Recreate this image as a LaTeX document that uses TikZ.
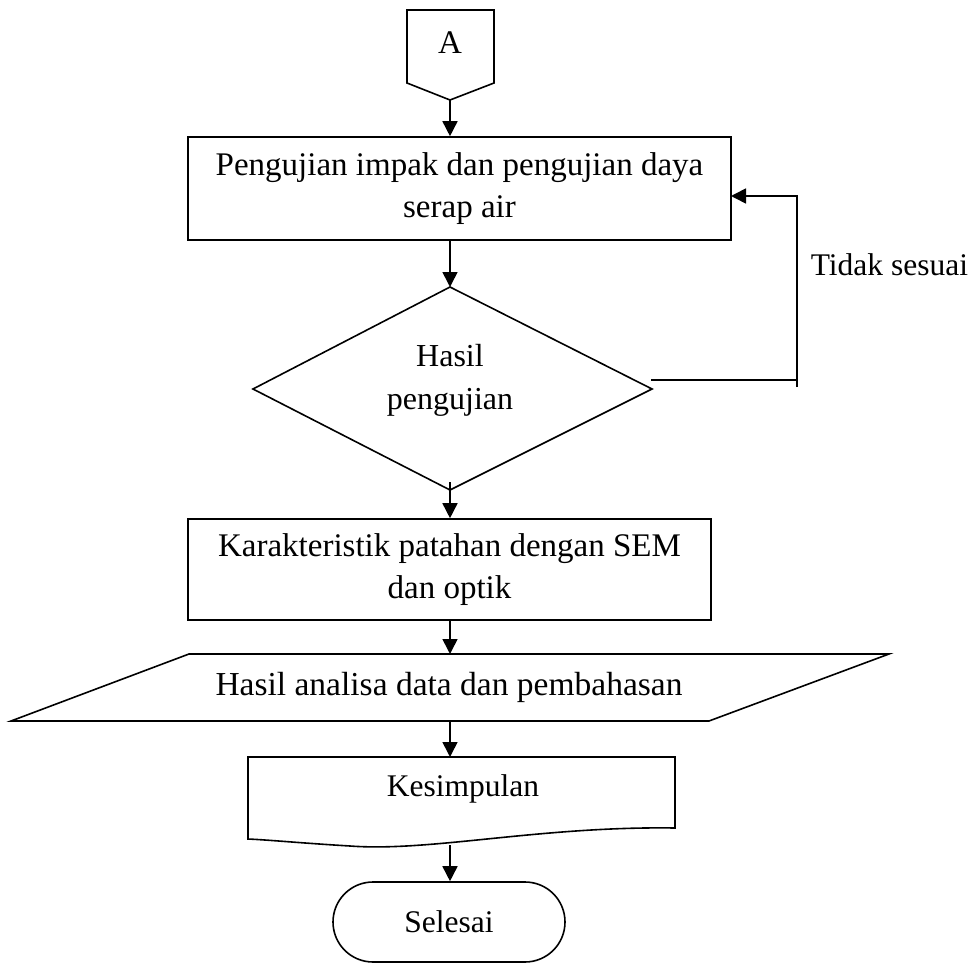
\documentclass[tikz,border=0pt]{standalone}
\usepackage{fontspec}
\setmainfont{Liberation Serif}
\usetikzlibrary{arrows.meta}
\begin{document}
\begin{tikzpicture}[x=1pt,y=-1pt,line width=1.6pt,
  every node/.style={font=\fontsize{32}{43}\selectfont,inner sep=0pt},
  big/.style={font=\fontsize{33}{42.5}\selectfont},
  small/.style={font=\fontsize{31.5}{43}\selectfont},
  flowbox/.style={draw,rectangle,align=center,big},
  txt/.style={align=center},
  conn/.style={-{Triangle[length=15pt,width=15pt]}}]
\useasboundingbox (0,0) rectangle (978,963);
% off-page connector A
\draw (407,10) -- (494,10) -- (494,83) -- (450,100) -- (407,83) -- cycle;
\coordinate (abot) at (450,100);
\node[big] (la) at (450,43) {A};
% box 1
\node[flowbox,minimum width=543pt,minimum height=103pt] (b1) at (459.5,188.5)
  {Pengujian impak dan pengujian daya\\serap air};
% decision
\draw (450,287) -- (652,389) -- (450,490) -- (253,389) -- cycle;
\coordinate (dtop) at (450,287);
\coordinate (dbot) at (450,482);
\node[txt] (dtext) at (450,380) {Hasil\\pengujian};
% loop back
\coordinate (lstart) at (651,380);
\coordinate (lcorner) at (797,380);
\coordinate (lext) at (797,387);
\coordinate (ltop) at (797,196);
\coordinate (b1in) at (731,196);
\draw (lstart) -- (lcorner);
\draw[conn] (lext) -- (ltop) -- (b1in);
\node[anchor=west,small] (tidak) at (810,265) {Tidak sesuai};
% box 2
\node[flowbox,minimum width=523pt,minimum height=101pt] (b2) at (449.5,569.5)
  {Karakteristik patahan dengan SEM\\dan optik};
% parallelogram
\draw (189,654) -- (889,654) -- (709,721) -- (11,721) -- cycle;
\coordinate (ptop) at (450,654);
\coordinate (pbot) at (450,721);
\node[font=\fontsize{33.5}{43}\selectfont] (ptext) at (449,687) {Hasil analisa data dan pembahasan};
% document
\draw (248,757) -- (675,757) -- (675,828)
  .. controls (540,826) and (430,852) .. (350,846)
  .. controls (300,843) and (270,840) .. (248,839) -- cycle;
\coordinate (doctop) at (450,757);
\coordinate (docbot) at (450,845);
\node[small] (doctext) at (463,789) {Kesimpulan};
% terminator
\node[draw,small,rounded corners=40pt,minimum width=232pt,minimum height=80pt] (term) at (449,922) {Selesai};
% connectors
\draw[conn] (abot) -- (abot |- b1.north);
\draw[conn] (abot |- b1.south) -- (dtop);
\draw[conn] (dbot) -- (dbot |- b2.north);
\draw[conn] (dbot |- b2.south) -- (ptop);
\draw[conn] (pbot) -- (doctop);
\draw[conn] (docbot) -- (docbot |- term.north);
\end{tikzpicture}
\end{document}
